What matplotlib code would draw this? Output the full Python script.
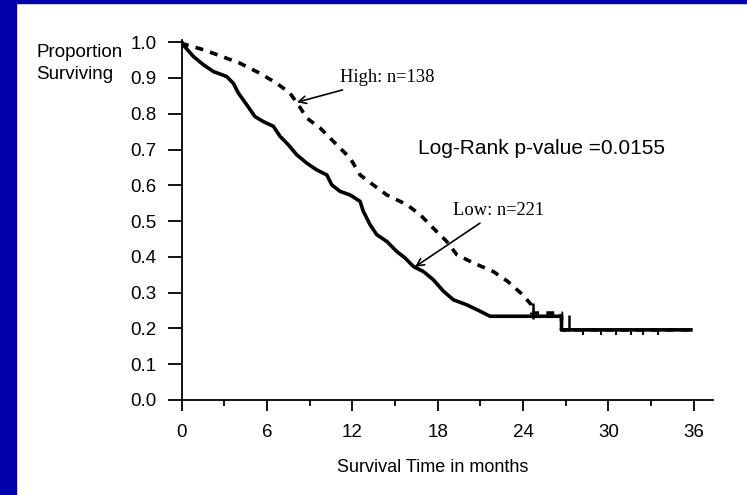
import numpy as np
import matplotlib.pyplot as plt
from matplotlib.patches import Rectangle

# Kaplan-Meier estimates read as (time in months, proportion surviving)
low_t = [0, 0.11, 0.82, 1.52, 2.22, 3.16, 3.63, 3.98, 4.57, 5.15, 5.74, 6.44,
         6.91, 7.50, 8.09, 8.79, 9.49, 10.2, 10.55, 11.13, 11.84, 12.54, 12.77,
         13.24, 13.71, 14.42, 15.12, 15.70, 16.29, 16.99, 17.69, 18.40, 19.10,
         20.04, 20.98, 21.68, 26.7, 26.7, 35.8]
low_s = [1.0, 0.992, 0.960, 0.937, 0.918, 0.904, 0.885, 0.858, 0.825, 0.792,
         0.778, 0.765, 0.737, 0.713, 0.685, 0.662, 0.643, 0.629, 0.601, 0.583,
         0.573, 0.555, 0.527, 0.490, 0.462, 0.443, 0.415, 0.397, 0.373, 0.359,
         0.336, 0.304, 0.280, 0.266, 0.248, 0.234, 0.234, 0.196, 0.196]

high_t = [0, 0.11, 1.52, 3.16, 4.1, 5.5, 6.68, 7.6, 8.2, 8.79, 9.73, 10.43,
          11.13, 11.84, 12.54, 13.47, 14.42, 15.82, 16.76, 17.69, 18.63, 19.34,
          20.5, 21.9, 22.9, 24.0, 24.6, 24.6, 26.7, 26.7, 35.8]
high_s = [1.0, 0.995, 0.979, 0.955, 0.941, 0.913, 0.885, 0.858, 0.825, 0.788,
          0.760, 0.732, 0.704, 0.676, 0.629, 0.601, 0.573, 0.546, 0.518, 0.480,
          0.443, 0.406, 0.383, 0.359, 0.332, 0.293, 0.265, 0.243, 0.243, 0.196,
          0.196]

# censored observations on the tail
cens_t = [24.7, 27.2]
cens_s = [0.25, 0.215]
tail_t = [28.2, 29.5, 30.5, 31.6, 32.4, 33.5]
tail_s = [0.19, 0.19, 0.19, 0.19, 0.19, 0.19]

xticks = [0, 6, 12, 18, 24, 30, 36]
yticks = [0.0, 0.1, 0.2, 0.3, 0.4, 0.5, 0.6, 0.7, 0.8, 0.9, 1.0]

plt.rcParams['font.family'] = 'Liberation Sans'

fig = plt.figure(figsize=(7.47, 4.95), dpi=100)
fig.patch.set_facecolor('white')

# slide frame
fig.patches.append(Rectangle((0, 0), 16 / 747, 1, transform=fig.transFigure,
                             color='#0000AA', zorder=0))
fig.patches.append(Rectangle((0, 1 - 3 / 495), 1, 3 / 495, transform=fig.transFigure,
                             color='#0000AA', zorder=0))

ax = fig.add_axes([181.7 / 747, 95 / 495, (713 - 181.7) / 747, 360 / 495])

ax.plot(high_t, high_s, color='black', lw=2.6, linestyle=(0, (2.2, 2.0)))
ax.plot(low_t, low_s, color='black', lw=2.6)
ax.plot(cens_t, cens_s, linestyle='none', marker='|', color='black',
        markersize=12, markeredgewidth=1.8)
ax.plot(tail_t, tail_s, linestyle='none', marker='|', color='black',
        markersize=4, markeredgewidth=1.5)

ax.set_xlim(0, 37.35)
ax.set_ylim(0, 1.006)
ax.set_xticks(xticks)
ax.set_xticks([3, 9, 15, 21, 27, 33], minor=True)
ax.set_yticks(yticks)
ax.set_yticklabels(['%.1f' % v for v in yticks])

for s in ['top', 'right']:
    ax.spines[s].set_visible(False)
for s in ['left', 'bottom']:
    ax.spines[s].set_linewidth(1.3)

ax.tick_params(axis='y', direction='out', length=10, width=1.3, pad=8,
               labelsize=13.5)
ax.tick_params(axis='x', which='major', direction='out', length=8, width=1.3,
               pad=9, labelsize=13.5)
ax.tick_params(axis='x', which='minor', direction='out', length=4, width=1.3)

ax.annotate('High: n=138', xy=(8.1, 0.832), xytext=(11.1, 0.90),
            fontsize=13.3, family='Liberation Serif', va='center', ha='left',
            arrowprops=dict(arrowstyle='->', color='black', lw=1.2,
                            shrinkA=2, shrinkB=0))
ax.annotate('Low: n=221', xy=(16.4, 0.372), xytext=(19.1, 0.53),
            fontsize=13.3, family='Liberation Serif', va='center', ha='left',
            arrowprops=dict(arrowstyle='->', color='black', lw=1.2,
                            shrinkA=2, shrinkB=0))

ax.text(16.6, 0.703, 'Log-Rank p-value =0.0155', fontsize=15, va='center',
        ha='left')

fig.text(36 / 747, 1 - 44 / 495, 'Proportion\nSurviving', fontsize=13.5,
         ha='left', va='top', linespacing=1.35)
fig.text(433 / 747, 1 - 467 / 495, 'Survival Time in months', fontsize=13,
         ha='center', va='center')

fig.savefig('out.png', dpi=100)
